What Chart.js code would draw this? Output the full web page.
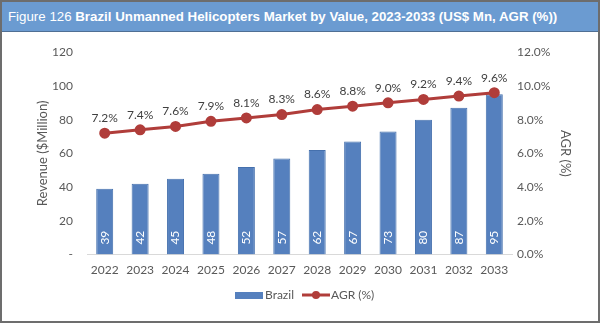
<!DOCTYPE html>
<html>
<head>
<meta charset="utf-8">
<script src="https://cdn.jsdelivr.net/npm/chart.js@4"></script>
<style>
  html, body { margin: 0; padding: 0; background: #fff; }
  #frame {
    position: absolute; left: 0; top: 0; width: 596px; height: 319px;
    border: 2px solid #6d6d6d; background: #fff; overflow: hidden;
  }
  #header {
    position: absolute; left: 0; top: 0; width: 596px; height: 30px;
    background: #6b9bd1; border-bottom: 1px solid #4f6f94;
    color: #fff; font-family: "Liberation Sans", Arial, sans-serif; font-size: 13.3px;
    line-height: 30px; padding-left: 6px; box-sizing: border-box; white-space: nowrap;
  }
  #header b { font-weight: bold; }
  #wrap { position: absolute; left: 0; top: 29px; width: 596px; height: 290px; }
</style>
</head>
<body>
<div id="frame">
  <div id="header">Figure 126 <b>Brazil Unmanned Helicopters Market by Value, 2023-2033 (US$ Mn, AGR (%))</b></div>
  <div id="wrap"><canvas id="chart"></canvas></div>
</div>
<script>
// Revenue and growth by year
const years = ['2022', '2023', '2024', '2025', '2026', '2027', '2028', '2029', '2030', '2031', '2032', '2033'];
const revenue = [39, 42, 45, 48, 52, 57, 62, 67, 73, 80, 87, 95];
const agr = [7.2, 7.4, 7.6, 7.9, 8.1, 8.3, 8.6, 8.8, 9.0, 9.2, 9.4, 9.6];
const revenueTicks = [0, 20, 40, 60, 80, 100, 120];
const agrTicks = [0, 2, 4, 6, 8, 10, 12];

const barColor = '#5580be';
const lineColor = '#b03d3a';
const textColor = '#595959';
const fontFamily = 'Lato, "Open Sans", sans-serif';

// value labels: rotated inside bars, above the line points
const labelPlugin = {
    id: 'valueLabels',
    afterDatasetsDraw(chart) {
        const ctx = chart.ctx;
        ctx.save();
        const bars = chart.getDatasetMeta(0).data;
        ctx.font = '12px ' + fontFamily;
        ctx.fillStyle = '#ffffff';
        ctx.textAlign = 'left';
        ctx.textBaseline = 'middle';
        bars.forEach((bar, i) => {
            ctx.save();
            ctx.translate(bar.x, bar.base - 10);
            ctx.rotate(-Math.PI / 2);
            ctx.fillText(String(revenue[i]), 0, 0);
            ctx.restore();
        });
        const pts = chart.getDatasetMeta(1).data;
        ctx.fillStyle = '#404040';
        ctx.textAlign = 'center';
        ctx.textBaseline = 'bottom';
        pts.forEach((p, i) => {
            ctx.fillText(agr[i].toFixed(1) + '%', p.x, p.y - 9);
        });
        ctx.restore();
    }
};

// legend at the bottom: bar swatch, line with marker
const legendPlugin = {
    id: 'customLegend',
    afterDraw(chart) {
        const ctx = chart.ctx;
        const y = chart.height - 26;
        ctx.save();
        ctx.font = '12px ' + fontFamily;
        ctx.fillStyle = barColor;
        ctx.fillRect(233, y - 3, 28, 7);
        ctx.fillStyle = textColor;
        ctx.textAlign = 'left';
        ctx.textBaseline = 'middle';
        ctx.fillText('Brazil', 263, y);
        ctx.strokeStyle = lineColor;
        ctx.lineWidth = 3;
        ctx.beginPath();
        ctx.moveTo(300, y);
        ctx.lineTo(328, y);
        ctx.stroke();
        ctx.fillStyle = lineColor;
        ctx.beginPath();
        ctx.arc(314, y, 4, 0, Math.PI * 2);
        ctx.fill();
        ctx.fillStyle = textColor;
        ctx.fillText('AGR (%)', 329, y);
        ctx.restore();
    }
};

new Chart(document.getElementById('chart'), {
    type: 'bar',
    data: {
        labels: years,
        datasets: [{
            type: 'bar',
            label: 'Brazil',
            data: revenue,
            backgroundColor: barColor,
            borderColor: '#4570ad',
            borderWidth: 1,
            barPercentage: 0.48,
            categoryPercentage: 1,
            yAxisID: 'y',
            order: 2
        }, {
            type: 'line',
            label: 'AGR (%)',
            data: agr,
            borderColor: lineColor,
            backgroundColor: lineColor,
            borderWidth: 3,
            pointRadius: 4,
            pointHoverRadius: 4,
            yAxisID: 'y1',
            order: 1
        }]
    },
    options: {
        responsive: true,
        maintainAspectRatio: false,
        animation: false,
        layout: { padding: { left: 29, right: 21, top: 8, bottom: 36 } },
        plugins: { legend: { display: false }, tooltip: { enabled: false } },
        scales: {
            x: {
                grid: { display: false, drawTicks: false },
                border: { color: '#d9d9d9' },
                ticks: { color: textColor, font: { family: fontFamily, size: 12 }, padding: 8, maxRotation: 0, autoSkip: false }
            },
            y: {
                min: 0, max: 120,
                afterBuildTicks: axis => { axis.ticks = revenueTicks.map(v => ({ value: v })); },
                afterFit: axis => { axis.width = 56; },
                grid: { display: false, drawTicks: false },
                border: { display: false },
                ticks: {
                    color: textColor, font: { family: fontFamily, size: 12 }, padding: 14,
                    callback: v => v === 0 ? '-' : v
                },
                title: { display: true, text: 'Revenue ($Million)', color: textColor, font: { family: fontFamily, size: 13 }, padding: 4 }
            },
            y1: {
                position: 'right',
                min: 0, max: 12,
                afterBuildTicks: axis => { axis.ticks = agrTicks.map(v => ({ value: v })); },
                afterFit: axis => { axis.width = 65; },
                grid: { display: false, drawTicks: false },
                border: { display: false },
                ticks: {
                    color: textColor, font: { family: fontFamily, size: 12 }, padding: 5,
                    callback: v => v.toFixed(1) + '%'
                },
                title: { display: true, text: 'AGR (%)', color: textColor, font: { family: fontFamily, size: 13 }, padding: 4 }
            }
        }
    },
    plugins: [labelPlugin, legendPlugin]
});
</script>
</body>
</html>
